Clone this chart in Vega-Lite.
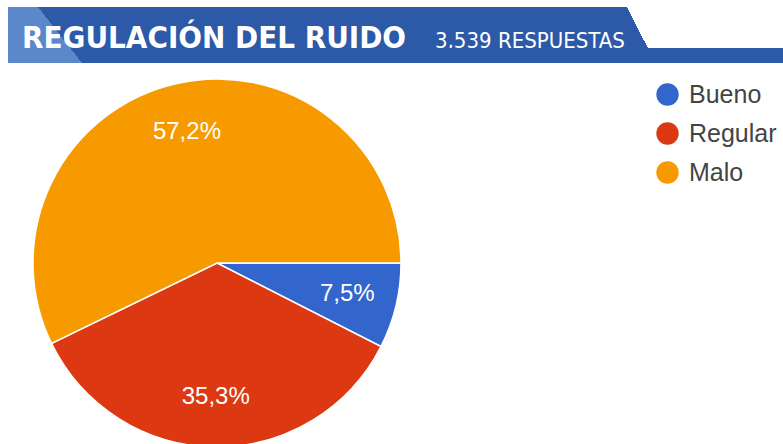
{
  "$schema": "https://vega.github.io/schema/vega-lite/v6.json",
  "padding": {"top": 7, "left": 8, "right": 0, "bottom": 0},
  "background": "#ffffff",
  "spacing": 0,
  "bounds": "flush",
  "config": {"view": {"stroke": null}, "concat": {"spacing": 0}},
  "vconcat": [
    {
      "width": 640,
      "height": 41,
      "view": {
        "stroke": null,
        "fill": {"gradient": "linear", "x1": 0, "y1": 0.0328, "x2": 1, "y2": 0,
          "stops": [{"offset": 0, "color": "#2c59a8"}, {"offset": 0.967, "color": "#2c59a8"}, {"offset": 0.967, "color": "#ffffff"}, {"offset": 1, "color": "#ffffff"}]}
      },
      "data": {"values": [{"titulo": "REGULACIÓN DEL RUIDO", "respuestas": "3,539 RESPUESTAS"}]},
      "layer": [
        {
          "mark": {"type": "rect",
            "fill": {"gradient": "linear", "x1": 0, "y1": 0.05, "x2": 1, "y2": 0,
              "stops": [{"offset": 0, "color": "#5b88cb"}, {"offset": 0.0493, "color": "#5b88cb"}, {"offset": 0.0493, "color": "rgba(91,136,203,0)"}, {"offset": 1, "color": "rgba(91,136,203,0)"}]}},
          "encoding": {}
        },
        {
          "mark": {"type": "text", "align": "left", "baseline": "alphabetic", "dx": -306, "dy": 20, "font": "DejaVu Sans Condensed", "fontWeight": "bold", "fontSize": 31, "color": "#ffffff"},
          "encoding": {"text": {"field": "titulo"}}
        },
        {
          "mark": {"type": "text", "align": "left", "baseline": "alphabetic", "dx": 107, "dy": 20, "font": "DejaVu Sans Condensed", "fontSize": 22, "color": "#ffffff"},
          "encoding": {"text": {"field": "respuestas"}}
        }
      ]
    },
    {
      "width": 775,
      "height": 15,
      "view": {
        "stroke": null,
        "fill": {"gradient": "linear", "x1": 0, "y1": 0.0152, "x2": 1, "y2": 0,
          "stops": [{"offset": 0, "color": "#5b88cb"}, {"offset": 0.0805, "color": "#5b88cb"}, {"offset": 0.0805, "color": "#2c59a8"}, {"offset": 1, "color": "#2c59a8"}]}
      },
      "data": {"values": [{"t": ""}]},
      "mark": {"type": "text"},
      "encoding": {"text": {"field": "t"}}
    },
    {
      "width": 418,
      "height": 400,
      "data": {"values": [
        {"respuesta": "Bueno", "porcentaje": 7.5, "etiqueta": "7,5%", "orden": 1},
        {"respuesta": "Regular", "porcentaje": 35.3, "etiqueta": "35,3%", "orden": 2},
        {"respuesta": "Malo", "porcentaje": 57.2, "etiqueta": "57,2%", "orden": 3}
      ]},
      "encoding": {
        "theta": {"field": "porcentaje", "type": "quantitative", "stack": true, "scale": {"range": [1.5707963, 7.8539816]}},
        "order": {"field": "orden", "type": "quantitative"}
      },
      "layer": [
        {
          "mark": {"type": "arc", "radius": 184, "stroke": "#ffffff", "strokeWidth": 1.5},
          "encoding": {
            "color": {
              "field": "respuesta", "type": "nominal",
              "scale": {"domain": ["Bueno", "Regular", "Malo"], "range": ["#3366cc", "#dc3912", "#f79a00"]},
              "legend": {
                "title": null, "orient": "none", "legendX": 647, "legendY": 75,
                "symbolType": "circle", "symbolSize": 500, "symbolStrokeWidth": 0, "symbolOpacity": 1,
                "labelFont": "Liberation Sans", "labelFontSize": 25, "labelColor": "#444444",
                "labelOffset": 9, "rowPadding": 13, "padding": 0
              }
            }
          }
        },
        {
          "mark": {"type": "text", "radius": 134, "font": "Liberation Sans", "fontSize": 24, "color": "#ffffff"},
          "encoding": {"text": {"field": "etiqueta"}}
        }
      ]
    }
  ]
}
